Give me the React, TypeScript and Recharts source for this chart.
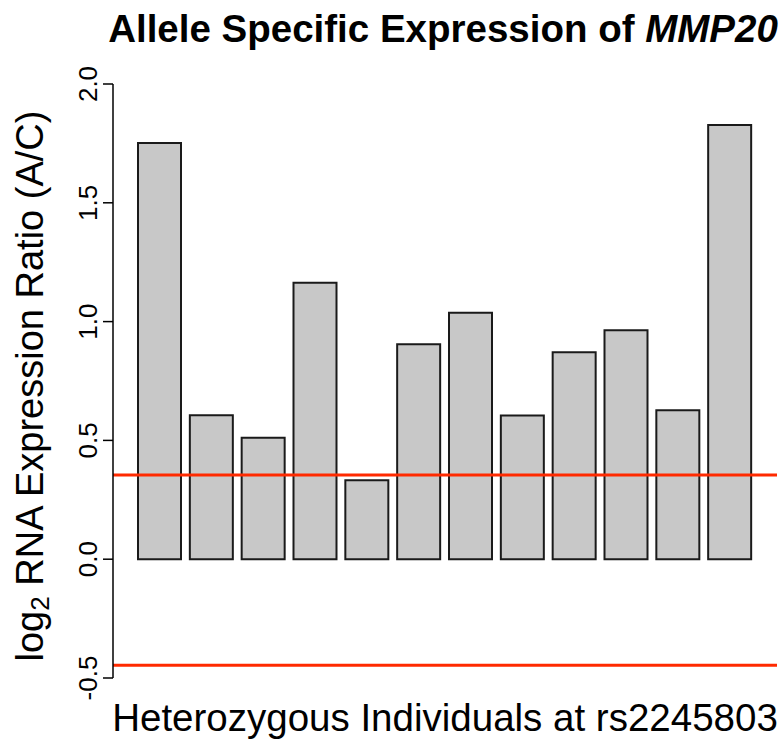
import { BarChart, Bar, XAxis, YAxis, ReferenceLine } from "recharts";

const individuals = ["1", "2", "3", "4", "5", "6", "7", "8", "9", "10", "11", "12"];
const log2Ratio = [1.752, 0.606, 0.511, 1.163, 0.332, 0.905, 1.037, 0.605, 0.871, 0.964, 0.627, 1.827];
const thresholds = [0.354, -0.446];
const yTicks = [-0.5, 0, 0.5, 1, 1.5, 2];

const FONT = "'Liberation Sans', Arial, Helvetica, sans-serif";
const RED = "#FF2A00";

const data = individuals.map((id, i) => ({ id, value: log2Ratio[i] }));

function RotatedTick({ x, y, payload }: any) {
  // labels sit parallel to the axis, R style
  const bx = x - 4;
  return (
    <text
      x={bx}
      y={y}
      transform={`rotate(-90, ${bx}, ${y})`}
      textAnchor="middle"
      fontSize={26}
      fontFamily={FONT}
      fill="#000"
    >
      {payload.value.toFixed(1)}
    </text>
  );
}

export default function App() {
  return (
    <div style={{ position: "absolute", left: 0, top: 0, width: 783, height: 740, background: "#fff" }}>
      <BarChart
        width={783}
        height={740}
        data={data}
        margin={{ top: 84, right: 6, bottom: 62, left: 0 }}
      >
        <XAxis dataKey="id" hide padding={{ left: 21, right: 21 }} />
        <YAxis
          width={113}
          domain={[-0.5, 2]}
          ticks={yTicks}
          allowDataOverflow
          tick={<RotatedTick />}
          tickSize={10}
          tickMargin={2}
          axisLine={{ stroke: "#000", strokeWidth: 1.5 }}
          tickLine={{ stroke: "#000", strokeWidth: 1.5 }}
        />
        <Bar
          dataKey="value"
          barSize={43}
          fill="#C8C8C8"
          stroke="#1a1a1a"
          strokeWidth={2}
          isAnimationActive={false}
        />
        {thresholds.map((t) => (
          <ReferenceLine key={t} y={t} stroke={RED} strokeWidth={3} ifOverflow="visible" />
        ))}
      </BarChart>
      <svg
        width={783}
        height={740}
        style={{ position: "absolute", left: 0, top: 0, pointerEvents: "none" }}
      >
        <text x={443} y={42} textAnchor="middle" fontSize={38.5} fontWeight="bold" fontFamily={FONT}>
          Allele Specific Expression of <tspan fontStyle="italic">MMP20</tspan>
        </text>
        <text
          x={43}
          y={386}
          transform="rotate(-90, 43, 386)"
          textAnchor="middle"
          fontSize={38}
          fontFamily={FONT}
        >
          log<tspan fontSize={26} dy={6}>2</tspan>
          <tspan dy={-6}> RNA Expression Ratio (A/C)</tspan>
        </text>
        <text x={445} y={731} textAnchor="middle" fontSize={38.5} fontFamily={FONT}>
          Heterozygous Individuals at rs2245803
        </text>
      </svg>
    </div>
  );
}
